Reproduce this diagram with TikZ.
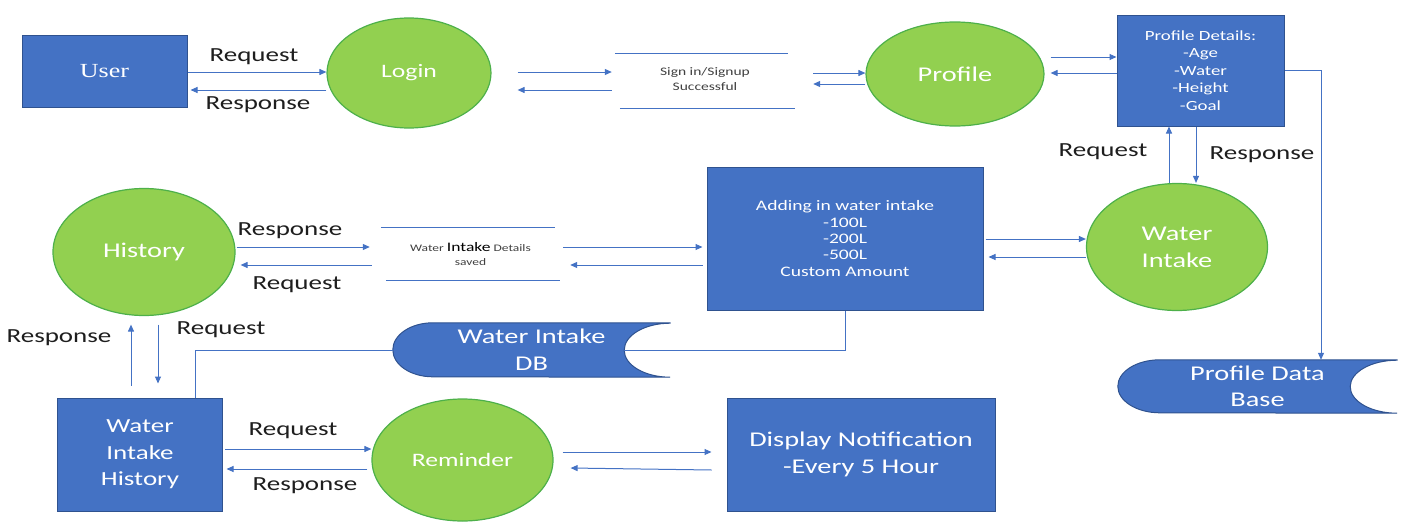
\documentclass[tikz,border=0pt]{standalone}
\usepackage{fontspec}
\setmainfont{Carlito}[FakeStretch=1.35]
\newfontfamily\userfont{Liberation Serif}[FakeStretch=1.3]
\usepackage{xcolor}
\usepackage{tikz}
\usetikzlibrary{shapes.geometric,arrows.meta,positioning,calc,backgrounds}

\definecolor{boxblue}{HTML}{4472C4}
\definecolor{boxedge}{HTML}{2F528F}
\definecolor{procgreen}{HTML}{92D050}
\definecolor{procedge}{HTML}{4DB04A}
\definecolor{lblgray}{HTML}{1E1E1E}

\tikzset{
    entity/.style={rectangle, fill=boxblue, draw=boxedge, line width=1pt, text=white, align=center, inner sep=0pt},
    process/.style={ellipse, fill=procgreen, draw=procedge, line width=1.2pt, text=white, align=center, inner sep=0pt},
    dbtext/.style={rectangle, text=white, align=center, inner sep=0pt},
    dbshape/.style={fill=boxblue, draw=boxedge, line width=1pt},
    store/.style={rectangle, align=center, inner sep=0pt, text=black!75},
    storeline/.style={draw=boxblue, line width=1pt},
    flow/.style={draw=boxblue, line width=1pt, -{Triangle[length=7pt,width=6pt]}},
    link/.style={draw=boxblue, line width=1pt},
    lbl/.style={font=\fontsize{20}{24}\selectfont, text=lblgray, inner sep=0pt},
}

\begin{document}
\begin{tikzpicture}[x=1pt, y=1pt]
    \useasboundingbox (0,0) rectangle (1403,-522);

    % top row
    \node[entity, minimum width=165, minimum height=72, font=\userfont\fontsize{20}{24}\selectfont] (user) at (104.5,-71) {User};
    \node[process, minimum width=164, minimum height=110, font=\fontsize{19}{23}\selectfont] (login) at (409,-73) {Login};
    \node[store, minimum width=180, minimum height=54, font=\fontsize{11.5}{15}\selectfont] (signin) at (705,-79) {Sign in/Signup\\Successful};
    \node[process, minimum width=178, minimum height=104, font=\fontsize{21}{25}\selectfont] (profile) at (955,-74) {Profile};
    \node[entity, minimum width=167, minimum height=111, font=\fontsize{14}{17.5}\selectfont] (details) at (1200.5,-70.5) {Profile Details:\\-Age\\-Water\\-Height\\-Goal};

    % middle row
    \node[process, minimum width=182, minimum height=127, font=\fontsize{21}{25}\selectfont] (history) at (144,-252) {History};
    \node[store, minimum width=179, minimum height=52, font=\fontsize{10}{14}\selectfont] (saved) at (470.5,-254) {Water {\fontsize{13}{14}\selectfont\color{black}Intake} Details\\saved};
    \node[entity, minimum width=276, minimum height=143, font=\fontsize{14.5}{16.3}\selectfont] (adding) at (845,-238.5) {Adding in water intake\\-100L\\-200L\\-500L\\Custom Amount};
    \node[process, minimum width=181, minimum height=127, font=\fontsize{21}{27}\selectfont] (wintake) at (1177,-247) {Water\\Intake};

    % data stores
    \node[dbtext, minimum width=277, minimum height=54, font=\fontsize{21}{27}\selectfont] (wdb) at (531.5,-350) {Water Intake\\DB};
    \node[dbtext, minimum width=279, minimum height=53, font=\fontsize{21}{26}\selectfont] (pdb) at (1257.5,-386.5) {Profile Data\\Base};
    \begin{scope}[on background layer]
        \path[dbshape] (wdb.north east) -- ([xshift=40]wdb.north west) arc[start angle=90, end angle=270, x radius=40, y radius=27] -- (wdb.south east) arc[start angle=270, end angle=90, x radius=46, y radius=27] -- cycle;
        \path[dbshape] (pdb.north east) -- ([xshift=42]pdb.north west) arc[start angle=90, end angle=270, x radius=42, y radius=26.5] -- (pdb.south east) arc[start angle=270, end angle=90, x radius=47, y radius=26.5] -- cycle;
    \end{scope}

    % bottom row
    \node[entity, minimum width=165, minimum height=113, font=\fontsize{20}{26.5}\selectfont] (wih) at (140,-454.5) {Water\\Intake\\History};
    \node[process, minimum width=181, minimum height=122, font=\fontsize{19}{23}\selectfont] (reminder) at (462.5,-460) {Reminder};
    \node[entity, minimum width=268, minimum height=113, font=\fontsize{21}{27}\selectfont] (display) at (861,-454.5) {Display Notification\\-Every 5 Hour};

    % store lines
    \draw[storeline] ([yshift=-2]signin.north west) -- ([shift={(-7,-2)}]signin.north east);
    \draw[storeline] ([shift={(5,-2)}]signin.south west) -- ([yshift=-2]signin.south east);
    \draw[storeline] (saved.north west) -- ([xshift=-5]saved.north east);
    \draw[storeline] ([xshift=5]saved.south west) -- (saved.south east);

    % flows
    \draw[flow] ([yshift=-1]user.east) -- ([yshift=1]login.west);
    \draw[flow] ([yshift=-17]login.west) -- ([shift={(3,-19)}]user.east);
    \draw[flow] ([shift={(26,1)}]login.east) -- ([shift={(-3,7)}]signin.west);
    \draw[flow] ([shift={(-3,-11)}]signin.west) -- ([shift={(26,-17)}]login.east);
    \draw[flow] ([shift={(18,6)}]signin.east) -- ([yshift=1]profile.west);
    \draw[flow] ([yshift=-10]profile.west) -- ([shift={(18,-5)}]signin.east);
    \draw[flow] ([shift={(6,17)}]profile.east) -- ([yshift=13.5]details.west);
    \draw[flow] ([yshift=-2.5]details.west) -- ([shift={(6,1)}]profile.east);
    \draw[flow] (details.east) -| ([xshift=63.5]pdb.north);
    \draw[flow] ([xshift=-8]wintake.north) -- ([xshift=-31.5]details.south);
    \draw[flow] ([xshift=-4.5]details.south) -- ([xshift=19]wintake.north);
    \draw[flow] ([shift={(2,-0.5)}]adding.east) -- ([yshift=8]wintake.west);
    \draw[flow] ([yshift=-10]wintake.west) -- ([shift={(5,-18.5)}]adding.east);
    \draw[flow] ([shift={(3,7)}]saved.east) -- ([shift={(-4,-8.5)}]adding.west);
    \draw[flow] ([shift={(-4,-26.5)}]adding.west) -- ([shift={(10,-11)}]saved.east);
    \draw[flow] ([shift={(1,5)}]history.east) -- ([shift={(-11,7)}]saved.west);
    \draw[flow] ([shift={(-9,-11)}]saved.west) -- ([shift={(5,-13)}]history.east);
    \draw[flow] ([shift={(-9,12)}]wih.north) -- ([shift={(-13,-8.5)}]history.south);
    \draw[flow] ([shift={(14,-8.5)}]history.south) -- ([shift={(18,14)}]wih.north);
    \draw[flow] ([shift={(2,5.5)}]wih.east) -- ([yshift=11]reminder.west);
    \draw[flow] ([shift={(-4,-9)}]reminder.west) -- ([shift={(3.5,-14.5)}]wih.east);
    \draw[flow] ([shift={(9,8)}]reminder.east) -- ([shift={(-15,2.5)}]display.west);
    \draw[flow] ([shift={(-15,-15.5)}]display.west) -- ([shift={(17,-8)}]reminder.east);

    % database links
    \draw[link] ([xshift=55]wih.north) |- (wdb.west);
    \draw[link] ([xshift=-46]wdb.east) -| (adding.south);

    % labels
    \node[lbl] (req1) at (254,-57) {Request};
    \node[lbl] (res1) at (258,-105) {Response};
    \node[lbl] (req2) at (1103,-152) {Request};
    \node[lbl] (res2) at (1262,-155) {Response};
    \node[lbl] (res3) at (290,-231) {Response};
    \node[lbl] (req3) at (297,-285) {Request};
    \node[lbl] (res4) at (59,-338) {Response};
    \node[lbl] (req4) at (221,-330) {Request};
    \node[lbl] (req5) at (293,-431) {Request};
    \node[lbl] (res5) at (305,-486) {Response};
\end{tikzpicture}
\end{document}
